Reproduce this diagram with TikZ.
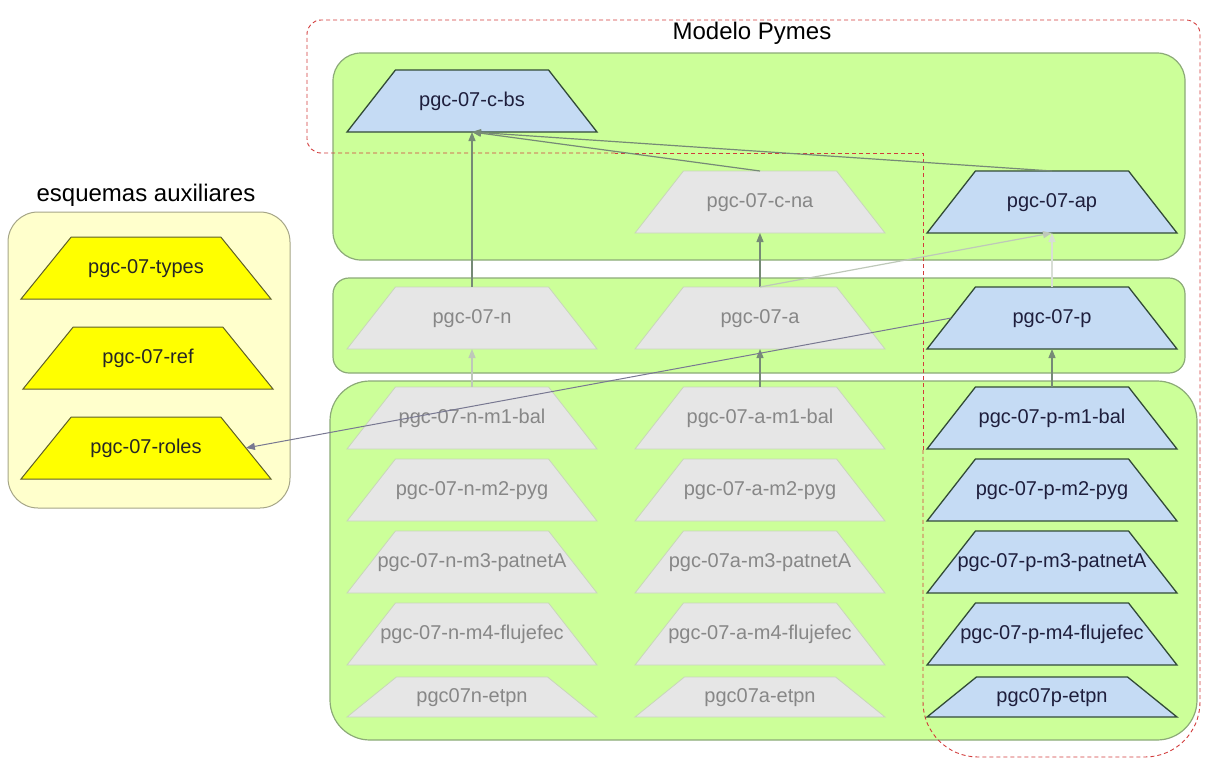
\documentclass[tikz,border=0pt]{standalone}
\usepackage{fontspec}
\setmainfont{Liberation Sans}
\usepackage{xcolor}
\usepackage{tikz}
\usetikzlibrary{positioning,shapes.geometric,arrows.meta}
\definecolor{limefill}{RGB}{204,255,153}
\definecolor{limeedge}{RGB}{140,170,120}
\definecolor{creamfill}{RGB}{255,255,204}
\definecolor{creamedge}{RGB}{165,165,135}
\definecolor{bluefill}{RGB}{197,219,244}
\definecolor{blueedge}{RGB}{50,75,55}
\definecolor{bluetext}{RGB}{30,30,60}
\definecolor{greyfill}{RGB}{230,230,230}
\definecolor{greyedge}{RGB}{200,215,185}
\definecolor{greytext}{RGB}{135,135,135}
\definecolor{auxfill}{RGB}{255,255,0}
\definecolor{auxedge}{RGB}{95,95,40}
\definecolor{linkgrey}{RGB}{118,138,118}
\definecolor{fadegrey}{RGB}{190,200,185}
\definecolor{rolelink}{RGB}{120,120,145}
\definecolor{scopered}{RGB}{210,60,60}
\newcommand{\nm}[1]{\makebox[0pt]{#1}}
\tikzset{
	trap/.style={trapezium, trapezium angle=52, trapezium stretches body, minimum width=250pt, text height=14pt, text depth=4pt, inner xsep=1pt, inner ysep=22pt, outer sep=0pt, font=\fontsize{20}{24}\selectfont},
	active/.style={trap, fill=bluefill, draw=blueedge, line width=1.3pt, text=bluetext},
	inactive/.style={trap, fill=greyfill, draw=greyedge, line width=0.8pt, text=greytext},
	aux/.style={trap, fill=auxfill, draw=auxedge, line width=1pt, trapezium angle=51, text=black!85},
	flat/.style={inner ysep=11pt, trapezium angle=39},
	modelbox/.style={fill=limefill, draw=limeedge, line width=1.2pt},
	auxbox/.style={fill=creamfill, draw=creamedge, line width=1pt, rounded corners=30pt},
	redscope/.style={draw=scopered, line width=0.9pt, dash pattern=on 4pt off 3pt},
	dep/.style={color=linkgrey, line width=1.2pt, -{Triangle[length=9pt,width=7pt]}},
	faint/.style={dep, color=fadegrey},
	title/.style={font=\fontsize{24}{28}\selectfont}
}

\begin{document}
\begin{tikzpicture}[x=1pt, y=-1pt]
	\useasboundingbox (0,0) rectangle (1205,758);

	\draw[auxbox] (8,212) rectangle (290,508);
	\node[title] (auxtitle) at (146,195) {esquemas auxiliares};

	\draw[modelbox, rounded corners=28pt] (333,53) rectangle (1185,260);
	\draw[modelbox, rounded corners=16pt] (333,278) rectangle (1185,373);
	\draw[modelbox, rounded corners=40pt] (330,381) rectangle (1197,740);
	\node[title] (modtitle) at (752,33) {Modelo Pymes};

	\draw[redscope] (923,450) -- (923,153) -- (615,153);
	\draw[redscope, rounded corners=14pt] (615,153) -- (307,153) -- (307,20) -- (1200,20) -- (1200,450);
	\draw[redscope, rounded corners=55pt] (1200,450) -- (1200,757) -- (923,757) -- (923,450);

	\node[active] (cbs) at (472,101) {\nm{pgc-07-c-bs}};
	\node[inactive] (cna) at (760,202) {\nm{pgc-07-c-na}};
	\node[active] (ap) at (1052,202) {\nm{pgc-07-ap}};

	\node[inactive] (n) at (472,318) {\nm{pgc-07-n}};
	\node[inactive] (a) at (760,318) {\nm{pgc-07-a}};
	\node[active] (p) at (1052,318) {\nm{pgc-07-p}};

	\node[inactive] (n1) at (472,418) {\nm{pgc-07-n-m1-bal}};
	\node[inactive, below=10pt of n1] (n2) {\nm{pgc-07-n-m2-pyg}};
	\node[inactive, below=10pt of n2] (n3) {\nm{pgc-07-n-m3-patnetA}};
	\node[inactive, below=10pt of n3] (n4) {\nm{pgc-07-n-m4-flujefec}};
	\node[inactive, flat, below=12pt of n4] (n5) {\nm{pgc07n-etpn}};

	\node[inactive] (a1) at (760,418) {\nm{pgc-07-a-m1-bal}};
	\node[inactive, below=10pt of a1] (a2) {\nm{pgc-07-a-m2-pyg}};
	\node[inactive, below=10pt of a2] (a3) {\nm{pgc-07a-m3-patnetA}};
	\node[inactive, below=10pt of a3] (a4) {\nm{pgc-07-a-m4-flujefec}};
	\node[inactive, flat, below=12pt of a4] (a5) {\nm{pgc07a-etpn}};

	\node[active] (p1) at (1052,418) {\nm{pgc-07-p-m1-bal}};
	\node[active, below=10pt of p1] (p2) {\nm{pgc-07-p-m2-pyg}};
	\node[active, below=10pt of p2] (p3) {\nm{pgc-07-p-m3-patnetA}};
	\node[active, below=10pt of p3] (p4) {\nm{pgc-07-p-m4-flujefec}};
	\node[active, flat, below=12pt of p4] (p5) {\nm{pgc07p-etpn}};

	\node[aux] (types) at (146,268) {\nm{pgc-07-types}};
	\node[aux] (ref) at (148,358) {\nm{pgc-07-ref}};
	\node[aux] (roles) at (146,448) {\nm{pgc-07-roles}};

	\draw[dep] (n) -- (cbs);
	\draw[dep] (cna.north) -- (cbs.south);
	\draw[dep] (ap.north) -- (cbs.south);
	\draw[dep] (a) -- (cna);
	\draw[faint] (a.north) -- (ap.south);
	\draw[faint, color=fadegrey!60] (p) -- (ap);
	\draw[faint] (n1) -- (n);
	\draw[dep] (a1) -- (a);
	\draw[dep] (p1) -- (p);
	\draw[dep, color=rolelink, line width=1pt] (p.west) -- (roles.east);
\end{tikzpicture}
\end{document}
